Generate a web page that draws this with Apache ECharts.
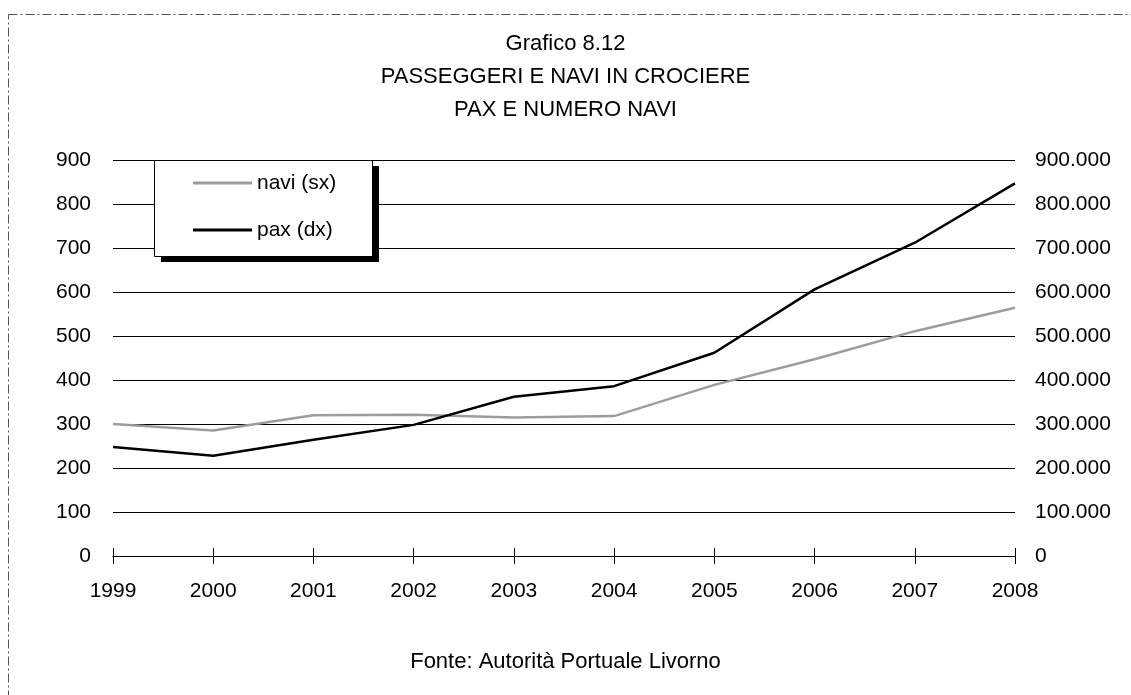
<!DOCTYPE html>
<html><head><meta charset="utf-8">
<script src="https://cdn.jsdelivr.net/npm/echarts@6/dist/echarts.min.js"></script>
<style>html,body{margin:0;padding:0;background:#fff}#c{width:1131px;height:695px}</style>
</head><body><div id="c"></div>
<script>
const years = ['1999','2000','2001','2002','2003','2004','2005','2006','2007','2008'];
const navi = [300, 285, 320, 321, 315, 318, 389, 447, 511, 564];
const pax = [248000, 228000, 264000, 298000, 362000, 386000, 462000, 606000, 712000, 847000];
const titleLines = ['Grafico 8.12', 'PASSEGGERI E NAVI IN CROCIERE', 'PAX E NUMERO NAVI'];
const source = 'Fonte: Autorità Portuale Livorno';

const FONT = "'Liberation Sans Narrow', 'Arial Narrow', 'Liberation Sans', sans-serif";
const chart = echarts.init(document.getElementById('c'), null, {renderer: 'canvas'});
const fmtDots = v => v === 0 ? '0' : String(v).replace(/\B(?=(\d{3})+(?!\d))/g, '.');
const xCommon = {
  type: 'category', data: years, boundaryGap: false, position: 'bottom',
  axisLine: {show: true, lineStyle: {color: '#000', width: 1}}
};
chart.setOption({
  animation: false,
  title: {
    text: titleLines.join('\n'), left: 'center', top: 22,
    textStyle: {fontFamily: FONT, fontSize: 22, fontWeight: 'normal', color: '#000', lineHeight: 33}
  },
  grid: {left: 113, right: 116, top: 160, bottom: 139, containLabel: false},
  legend: {
    orient: 'vertical', left: 193, top: 171, itemGap: 23, itemWidth: 59, itemHeight: 3,
    icon: 'rect', z: 20, padding: 0,
    textStyle: {fontFamily: FONT, fontSize: 21, color: '#000', lineHeight: 24},
    data: [{name: 'navi (sx)'}, {name: 'pax (dx)'}]
  },
  xAxis: [
    Object.assign({}, xCommon, {
      axisTick: {show: true, alignWithLabel: true, length: 8, lineStyle: {color: '#000'}},
      axisLabel: {fontFamily: FONT, fontSize: 21, color: '#000', margin: 25}
    }),
    Object.assign({}, xCommon, {
      axisTick: {show: true, inside: true, length: 8, lineStyle: {color: '#000'}},
      axisLabel: {show: false}
    })
  ],
  yAxis: [
    {type: 'value', min: 0, max: 900, interval: 100, position: 'left',
     axisLine: {show: false}, axisTick: {show: false},
     axisLabel: {fontFamily: FONT, fontSize: 21, color: '#000', margin: 22},
     splitLine: {show: true, lineStyle: {color: '#000', width: 1}}},
    {type: 'value', min: 0, max: 900000, interval: 100000, position: 'right',
     axisLine: {show: false}, axisTick: {show: false},
     axisLabel: {fontFamily: FONT, fontSize: 21, color: '#000', margin: 20, formatter: fmtDots},
     splitLine: {show: false}}
  ],
  graphic: [
    {type: 'rect', shape: {x: 8.5, y: 14.5, width: 1200, height: 800}, silent: true, z: -10,
     style: {fill: 'none', stroke: '#555', lineWidth: 1, lineDash: [9, 3, 2, 3]}},
    {type: 'rect', shape: {x: 161, y: 166, width: 218, height: 96}, z: 5, style: {fill: '#000'}},
    {type: 'rect', shape: {x: 154.5, y: 160.5, width: 218, height: 96}, z: 6,
     style: {fill: '#fff', stroke: '#000', lineWidth: 1}},
    {type: 'text', left: 'center', top: 651, z: 10,
     style: {text: source, fontFamily: FONT, fontSize: 22, fill: '#000'}}
  ],
  series: [
    {name: 'navi (sx)', type: 'line', xAxisIndex: 0, yAxisIndex: 0, data: navi, symbol: 'none',
     lineStyle: {color: '#9c9c9c', width: 2.5}, itemStyle: {color: '#9c9c9c'}, z: 3},
    {name: 'pax (dx)', type: 'line', xAxisIndex: 0, yAxisIndex: 1, data: pax, symbol: 'none',
     lineStyle: {color: '#000', width: 2.5}, itemStyle: {color: '#000'}, z: 4}
  ]
});
</script></body></html>
